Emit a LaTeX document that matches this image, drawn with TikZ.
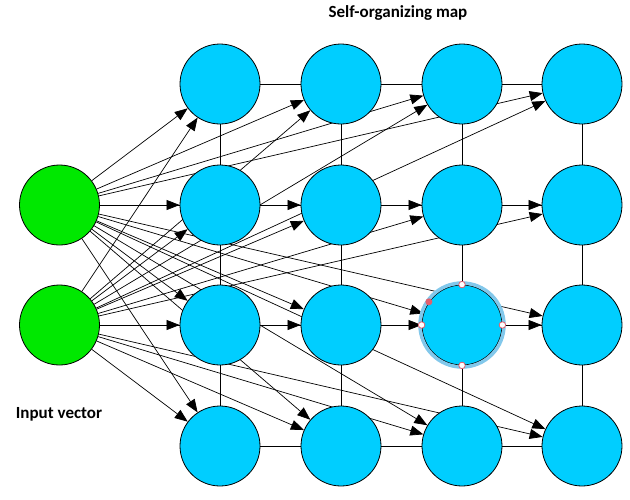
\documentclass[tikz,border=0pt]{standalone}
\usepackage{fontspec}
\setmainfont{Carlito}
\usetikzlibrary{arrows.meta,backgrounds}
\definecolor{somblue}{RGB}{0,206,255}
\definecolor{inpgreen}{RGB}{0,232,0}
\definecolor{halocol}{RGB}{130,200,235}
\definecolor{handlered}{RGB}{225,95,110}
\begin{document}
\begin{tikzpicture}[x=1pt,y=-1pt,
  som/.style={circle,draw=black,line width=0.8pt,fill=somblue,minimum size=80pt,inner sep=0pt},
  inp/.style={circle,draw=black,line width=0.8pt,fill=inpgreen,minimum size=80pt,inner sep=0pt},
  link/.style={black,line width=0.8pt},
  wgt/.style={black,line width=0.7pt,-{Triangle[length=13pt,width=10pt]}},
  lbl/.style={font=\fontsize{17}{20}\selectfont\bfseries},
  handle/.style={circle,draw=handlered,fill=white,line width=0.8pt,minimum size=6.5pt,inner sep=0pt},
  handlefill/.style={circle,fill=handlered,minimum size=7pt,inner sep=0pt},
  halo/.style={draw=halocol,line width=3.5pt}
  ]
\useasboundingbox (0,0) rectangle (630,499);
\foreach \r/\y in {1/84,2/205,3/325,4/446}
  \foreach \c/\x in {1/220,2/341,3/462,4/582}
    \node[som] (b\r\c) at (\x,\y) {};
\node[inp] (g1) at (59.5,205) {};
\node[inp] (g2) at (59.5,325) {};
\begin{scope}[on background layer]
  \foreach \r in {1,...,4}
    \foreach \c/\n in {1/2,2/3,3/4}
      \draw[link] (b\r\c) -- (b\r\n);
  \foreach \r/\n in {1/2,2/3,3/4}
    \foreach \c in {1,...,4}
      \draw[link] (b\r\c) -- (b\n\c);
  \foreach \g in {1,2}
    \foreach \r in {1,...,4}
      \foreach \c in {1,...,4}
        \draw[wgt] (g\g) -- (b\r\c);
\end{scope}
\draw[halo] (b33.center) circle (42);
\node[handle] (h1) at (b33.north) {};
\node[handle] (h2) at (b33.south) {};
\node[handle] (h3) at (b33.east) {};
\node[handle] (h4) at (b33.west) {};
\node[handlefill] (h5) at (b33.145) {};
\node[lbl] (title) at (398,13) {Self-organizing map};
\node[lbl] (inlabel) at (59,414) {Input vector};
\end{tikzpicture}
\end{document}
